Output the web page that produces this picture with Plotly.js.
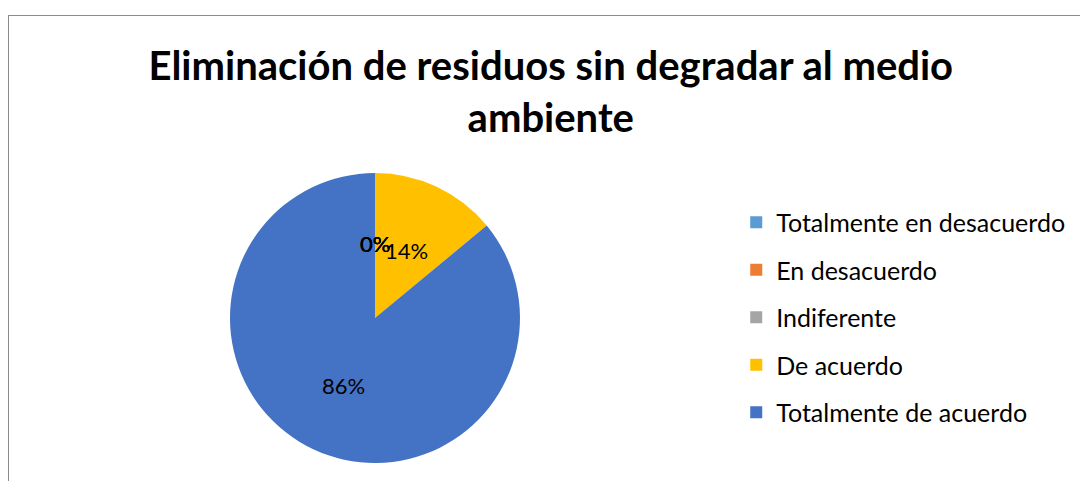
<!DOCTYPE html>
<html>
<head>
<meta charset="utf-8">
<script src="https://cdn.plot.ly/plotly-3.0.1.min.js"></script>
<style>
html,body{margin:0;padding:0;background:#fff;overflow:hidden;}
#frame{position:absolute;left:8px;top:15px;width:1200px;height:600px;border:1px solid #8c8c8c;}
#chart{position:absolute;left:0;top:0;width:1080px;height:481px;}
</style>
</head>
<body>
<div id="frame"></div>
<div id="chart"></div>
<script>
const categories = ["Totalmente en desacuerdo","En desacuerdo","Indiferente","De acuerdo","Totalmente de acuerdo"];
const values = [0, 0, 0, 14, 86];
const colors = ["#5B9BD5","#ED7D31","#A5A5A5","#FFC000","#4472C4"];
const FONT = "Lato, 'Open Sans', sans-serif";
const W = 1080, H = 481;
const domain = {x: [0.2083, 0.4861], y: [0.0374, 0.6403]};

const traces = [{
  type: "pie",
  labels: categories,
  values: values,
  sort: false,
  direction: "clockwise",
  rotation: 0,
  marker: {colors: colors, line: {width: 0}},
  textinfo: "none",
  showlegend: false,
  hoverinfo: "label+percent",
  domain: domain
}];
categories.forEach((c, i) => {
  traces.push({
    type: "bar", x: [null], y: [null], name: c,
    marker: {color: colors[i]}, legendgroup: "g" + i,
    showlegend: true, hoverinfo: "skip"
  });
});

// Data labels placed Excel-style: mid-angle of each slice, at half radius
const total = values.reduce((a, b) => a + b, 0);
const cxPx = (domain.x[0] + domain.x[1]) / 2 * W;
const cyPx = (domain.y[0] + domain.y[1]) / 2 * H;
const rPx = (domain.x[1] - domain.x[0]) / 2 * W;
let cum = 0;
const annotations = values.map((v) => {
  const mid = (cum + v / 2) / total * 2 * Math.PI;
  cum += v;
  const px = cxPx + 0.5 * rPx * Math.sin(mid);
  const py = cyPx + 0.5 * rPx * Math.cos(mid);
  return {
    xref: "paper", yref: "paper", x: px / W, y: py / H,
    text: Math.round(v / total * 100) + "%", showarrow: false,
    font: {family: FONT, size: 22, color: "#000"},
    xanchor: "center", yanchor: "middle"
  };
});

const layout = {
  width: W, height: H,
  margin: {l: 0, r: 0, t: 0, b: 0},
  paper_bgcolor: "rgba(0,0,0,0)",
  plot_bgcolor: "rgba(0,0,0,0)",
  title: {
    text: "<b>Eliminación de residuos sin degradar al medio<br>ambiente</b>",
    font: {family: FONT, size: 40, color: "#000"},
    x: 0.51, xanchor: "center", y: 0.833, yanchor: "top"
  },
  xaxis: {visible: false},
  yaxis: {visible: false},
  annotations: annotations,
  legend: {
    x: 0.6817, xanchor: "left", y: 0.585, yanchor: "top",
    font: {family: FONT, size: 25, color: "#000"},
    tracegroupgap: 12, itemwidth: 30,
    bgcolor: "rgba(0,0,0,0)"
  },
  showlegend: true
};
Plotly.newPlot("chart", traces, layout, {displayModeBar: false, staticPlot: true});
</script>
</body>
</html>
